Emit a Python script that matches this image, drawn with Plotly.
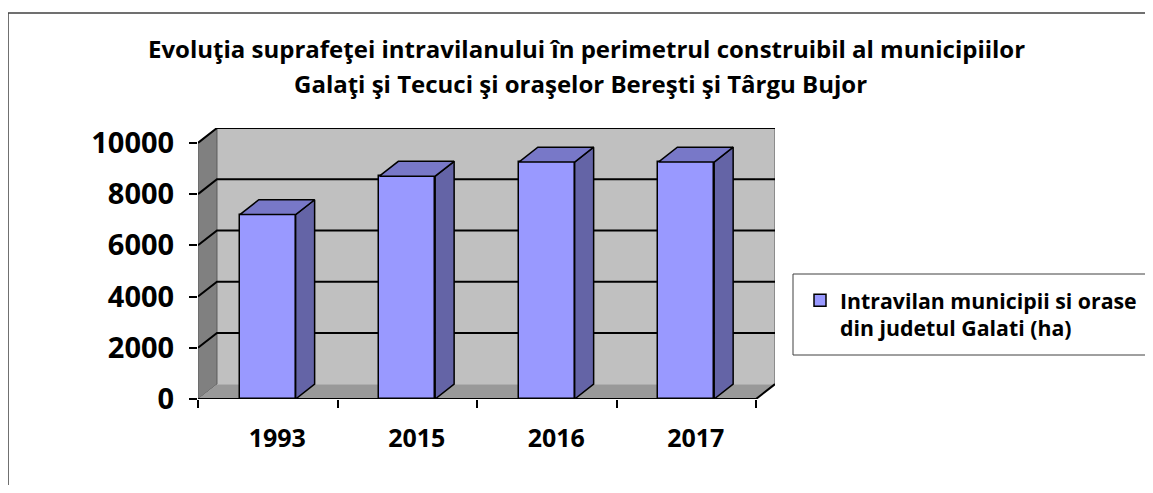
import plotly.graph_objects as go

# ---------------- data ----------------
years = ["1993", "2015", "2016", "2017"]
values = [7200, 8700, 9250, 9250]
y_ticks = [0, 2000, 4000, 6000, 8000, 10000]
y_ticktext = ["0", "2000", "4000", "6000", "8000", "10000"]
series_name = "Intravilan municipii si orase<br>din judetul Galati (ha)"
title_line1 = "Evoluţia suprafeţei intravilanului în perimetrul construibil al municipiilor"
title_line2 = "Galaţi şi Tecuci şi oraşelor Bereşti şi Târgu Bujor"

# ---------------- layout constants ----------------
W, H = 1153, 493                  # reference canvas
OFF = 8                           # page body margin
L, R, T, B = 198, 775, 128, 399   # plot area in reference pixels
DX = 0.136     # 3-D depth offset (category units)
DY = 580       # 3-D depth offset (value units)
BW = 0.4       # bar width
FONT = "Open Sans"

FRONT = "#9999FF"
SIDE = "#6464A6"
TOP = "#7878C8"

xs = list(range(len(years)))
x_lo, x_hi = -0.5, len(years) - 0.5
y_top = max(y_ticks)

FIG_W = W - OFF
FIG_H = H - 2 * OFF


def px(x):
    return (x - L) / (R - L)


def py(y):
    return (B - y) / (B - T)


fig = go.Figure()

# front faces of bars
fig.add_trace(go.Bar(
    x=xs, y=values, width=BW, name=series_name,
    marker=dict(color=FRONT, line=dict(color="black", width=1.5)),
    showlegend=True,
))

# side faces and top faces computed from values
sx, sy, tx, ty = [], [], [], []
for xi, v in zip(xs, values):
    r = xi + BW / 2
    l = xi - BW / 2
    sx += [r, r + DX, r + DX, r, r, None]
    sy += [0, DY, v + DY, v, 0, None]
    tx += [l, l + DX, r + DX, r, l, None]
    ty += [v, v + DY, v + DY, v, v, None]

fig.add_trace(go.Scatter(x=sx, y=sy, mode="lines", fill="toself", fillcolor=SIDE,
                         line=dict(color="black", width=1.5), showlegend=False,
                         hoverinfo="skip"))
fig.add_trace(go.Scatter(x=tx, y=ty, mode="lines", fill="toself", fillcolor=TOP,
                         line=dict(color="black", width=1.5), showlegend=False,
                         hoverinfo="skip"))

shapes = []
# back wall
shapes.append(dict(type="rect", xref="x", yref="y", layer="below",
                   x0=x_lo + DX, x1=x_hi + DX, y0=DY, y1=y_top + DY,
                   fillcolor="#C0C0C0", line=dict(width=0)))
# left wall
shapes.append(dict(type="path", xref="x", yref="y", layer="below",
                   path=f"M {x_lo},0 L {x_lo+DX},{DY} L {x_lo+DX},{y_top+DY} L {x_lo},{y_top} Z",
                   fillcolor="#808080", line=dict(color="#5a5a5a", width=1)))
# floor
shapes.append(dict(type="path", xref="x", yref="y", layer="below",
                   path=f"M {x_lo},0 L {x_hi},0 L {x_hi+DX},{DY} L {x_lo+DX},{DY} Z",
                   fillcolor="#999999", line=dict(width=0)))
# back wall right edge
shapes.append(dict(type="line", xref="x", yref="y", layer="below",
                   x0=x_hi + DX, x1=x_hi + DX, y0=DY, y1=y_top + DY,
                   line=dict(color="#8c8c8c", width=2)))
# gridlines (left wall + back wall)
for v in y_ticks[1:]:
    shapes.append(dict(type="path", xref="x", yref="y", layer="below",
                       path=f"M {x_lo},{v} L {x_lo+DX},{v+DY} L {x_hi+DX},{v+DY}",
                       line=dict(color="black", width=2)))
# floor front edge
shapes.append(dict(type="path", xref="x", yref="y", layer="below",
                   path=f"M {x_lo},0 L {x_hi},0 L {x_hi+DX},{DY}",
                   line=dict(color="black", width=2)))
# outer frame (top and left edges)
shapes.append(dict(type="line", xref="paper", yref="paper",
                   x0=px(8), x1=px(W + 30), y0=py(13), y1=py(13),
                   line=dict(color="#404040", width=1.5)))
shapes.append(dict(type="line", xref="paper", yref="paper",
                   x0=px(8), x1=px(8), y0=py(13), y1=py(H + 30),
                   line=dict(color="#404040", width=1.5)))
# legend box (runs off the right edge as in the original)
shapes.append(dict(type="rect", xref="paper", yref="paper",
                   x0=px(793), x1=px(W + 30), y0=py(274), y1=py(355),
                   line=dict(color="#404040", width=1), fillcolor="rgba(0,0,0,0)"))

fig.update_layout(
    width=FIG_W, height=FIG_H,
    margin=dict(l=L - OFF, r=FIG_W - (R - OFF), t=T - OFF, b=FIG_H - (B - OFF),
                autoexpand=False),
    paper_bgcolor="white", plot_bgcolor="rgba(0,0,0,0)",
    shapes=shapes,
    showlegend=True,
    legend=dict(x=px(800), y=py(280), xanchor="left", yanchor="top",
                bgcolor="rgba(0,0,0,0)", borderwidth=0, valign="top",
                font=dict(family=FONT, size=21.3, color="black", weight="bold")),
    annotations=[
        dict(text=title_line1, xref="paper", yref="paper", x=px(586), y=py(48),
             xanchor="center", yanchor="middle", showarrow=False,
             font=dict(family=FONT, size=24, color="black", weight="bold")),
        dict(text=title_line2, xref="paper", yref="paper", x=px(580), y=py(83),
             xanchor="center", yanchor="middle", showarrow=False,
             font=dict(family=FONT, size=24, color="black", weight="bold")),
    ],
    xaxis=dict(range=[x_lo, x_hi + DX], tickmode="array",
               tickvals=[x + DX / 2 for x in xs], ticktext=years,
               ticks="", showgrid=False, zeroline=False, showline=False,
               ticklabelstandoff=22,
               tickfont=dict(family=FONT, size=25, color="black", weight="bold"),
               minor=dict(tickmode="array", tickvals=[x_lo + i for i in range(len(years) + 1)],
                          ticks="outside", ticklen=8, tickcolor="black", tickwidth=1.5,
                          showgrid=False)),
    yaxis=dict(range=[0, y_top + DY], tickmode="array", tickvals=y_ticks,
               ticktext=y_ticktext,
               ticks="outside", ticklen=8, tickcolor="black", tickwidth=1.5,
               showgrid=False, zeroline=False, showline=False,
               ticklabelstandoff=9,
               tickfont=dict(family=FONT, size=29, color="black", weight="bold")),
    bargap=0,
)

fig.write_html("out.html")
